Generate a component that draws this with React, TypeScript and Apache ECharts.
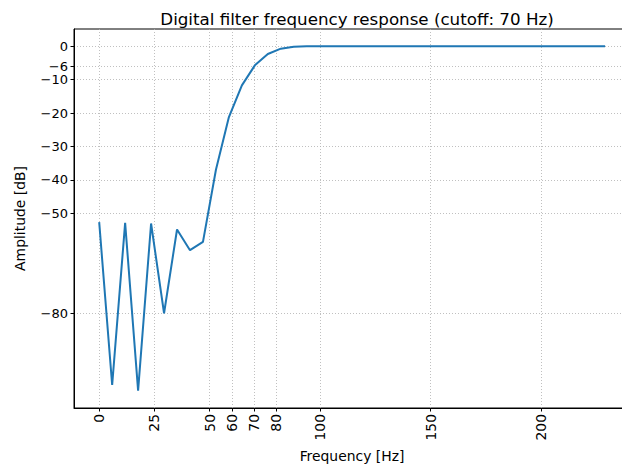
import React, { useEffect, useRef } from "react";
import * as echarts from "echarts";

// Sampled frequencies (Hz) and filter gain (dB)
const freqHz = [
  0, 5.87, 11.74, 17.61, 23.48, 29.35, 35.22, 41.09, 46.96, 52.83,
  58.7, 64.57, 70.44, 76.31, 82.18, 88.05, 93.92, 99.79, 105.66, 111.53,
  117.4, 123.27, 129.14, 135.01, 140.88, 146.75, 152.62, 158.49, 164.36, 170.23,
  176.1, 181.97, 187.84, 193.71, 199.58, 205.45, 211.32, 217.19, 223.06, 228.93,
];
const gainDb = [
  -52.7, -101.5, -52.9, -103.2, -53.1, -80.0, -54.9, -61.1, -58.6, -37.0,
  -21.2, -11.7, -5.7, -2.3, -0.7, -0.1, 0, 0, 0, 0,
  0, 0, 0, 0, 0, 0, 0, 0, 0, 0,
  0, 0, 0, 0, 0, 0, 0, 0, 0, 0,
];
const xTicks = [0, 25, 50, 60, 70, 80, 100, 150, 200];
const yTicks = [0, -6, -10, -20, -30, -40, -50, -80];

const FONT = "DejaVu Sans";
const minus = (v: number) => (v < 0 ? "\u2212" + Math.abs(v) : String(v));

export default function App() {
  const ref = useRef<HTMLDivElement>(null);
  useEffect(() => {
    if (!ref.current) return;
    const chart = echarts.init(ref.current, undefined, { renderer: "svg" });
    const gridLine = { show: true, lineStyle: { color: "#b0b0b0", type: [1, 2], width: 0.8 } };
    chart.setOption({
      animation: false,
      backgroundColor: "#ffffff",
      title: {
        text: "Digital filter frequency response (cutoff: 70 Hz)",
        left: 352,
        textAlign: "center",
        top: 5,
        textStyle: { fontFamily: FONT, fontSize: 16.7, fontWeight: "normal", color: "#000" },
      },
      grid: {
        left: 74,
        top: 29,
        width: 556,
        height: 379,
        show: true,
        borderColor: "#000",
        borderWidth: 1,
        backgroundColor: "transparent",
      },
      xAxis: {
        type: "value",
        min: -11.4,
        max: 240.2,
        name: "Frequency [Hz]",
        nameLocation: "middle",
        nameGap: 41,
        nameTextStyle: { fontFamily: FONT, fontSize: 13.9, color: "#000" },
        axisLine: { show: true, onZero: false, lineStyle: { color: "#000", width: 1 } },
        axisTick: { show: true, length: 3.5, customValues: xTicks, lineStyle: { color: "#000" } },
        axisLabel: {
          customValues: xTicks,
          rotate: 90,
          margin: 6,
          fontFamily: FONT,
          fontSize: 13.9,
          color: "#000",
          formatter: (v: number) => minus(v),
        },
        splitLine: gridLine,
      },
      yAxis: {
        type: "value",
        min: -108.4,
        max: 5.2,
        name: "Amplitude [dB]",
        nameLocation: "middle",
        nameGap: 47,
        nameTextStyle: { fontFamily: FONT, fontSize: 13.9, color: "#000" },
        axisLine: { show: true, onZero: false, lineStyle: { color: "#000", width: 1 } },
        axisTick: { show: true, length: 3.5, customValues: yTicks, lineStyle: { color: "#000" } },
        axisLabel: {
          customValues: yTicks,
          margin: 6,
          fontFamily: FONT,
          fontSize: 13,
          lineHeight: 12,
          color: "#000",
          formatter: (v: number) => minus(v),
        },
        splitLine: gridLine,
      },
      series: [
        {
          type: "line",
          data: freqHz.map((f, i) => [f, gainDb[i]]),
          showSymbol: false,
          symbol: "none",
          lineStyle: { color: "#1f77b4", width: 2 },
          clip: true,
        },
      ],
    });
    return () => chart.dispose();
  }, []);
  return (
    <div style={{ position: "fixed", left: 0, top: 0, width: 622, height: 470, overflow: "hidden", background: "#fff" }}>
      <div ref={ref} style={{ width: 640, height: 470 }} />
    </div>
  );
}
